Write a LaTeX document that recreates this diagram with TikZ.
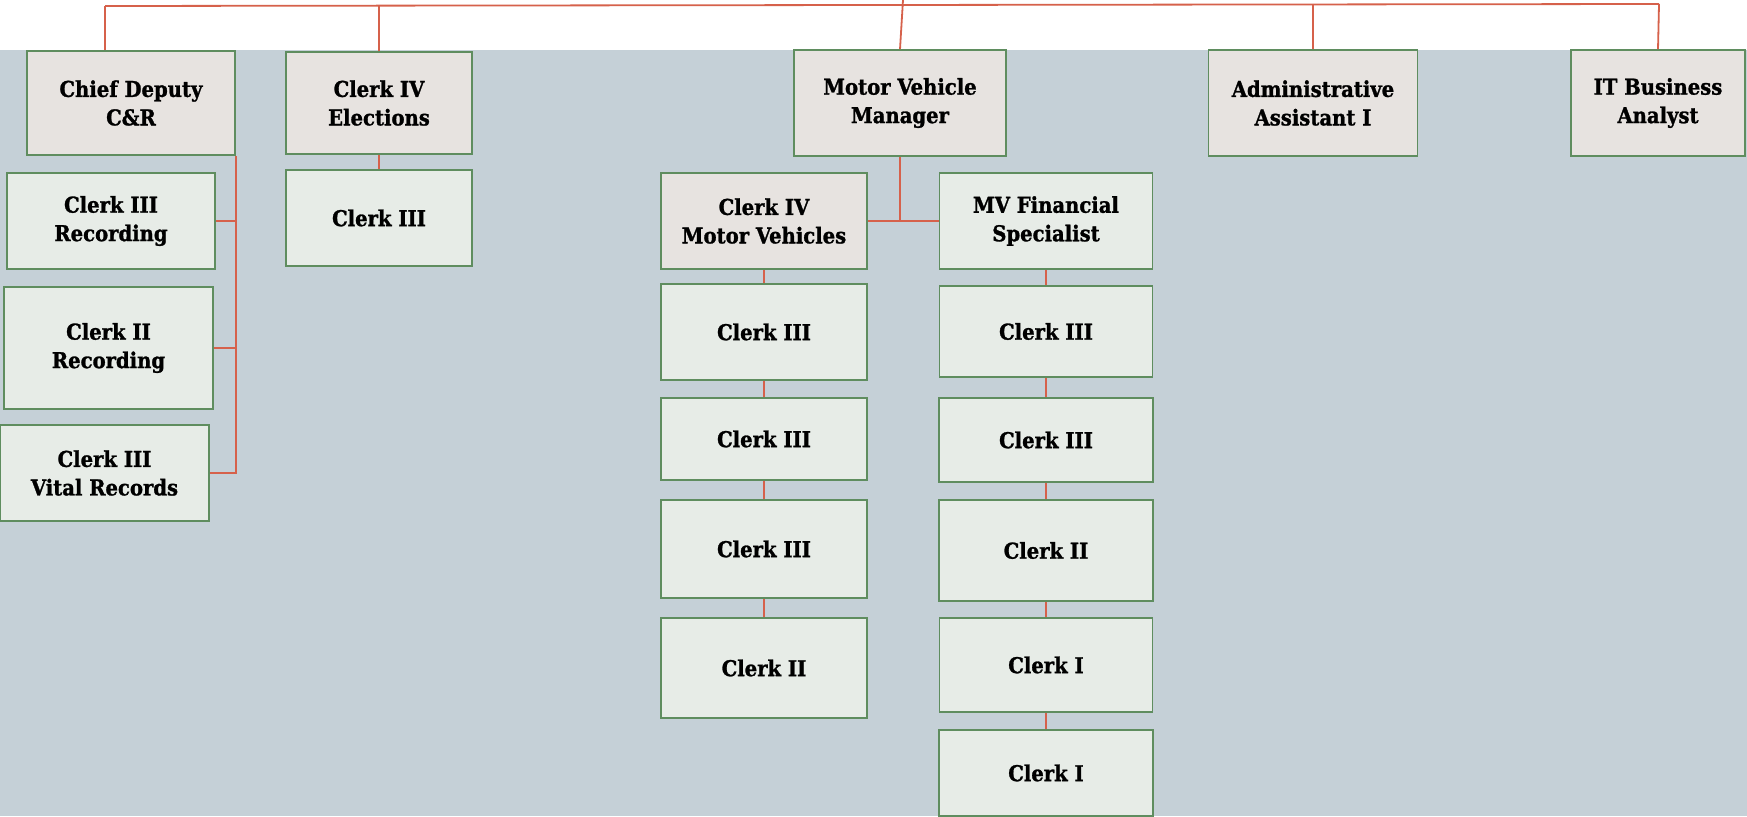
\documentclass[tikz,border=0pt]{standalone}
\usepackage{fontspec}
\newfontfamily\chartfont{DejaVu Serif Condensed}[BoldFeatures={FakeBold=1.2}]
\definecolor{bgblue}{HTML}{C5D0D7}
\definecolor{headfill}{HTML}{E7E3E0}
\definecolor{stafffill}{HTML}{E7ECE7}
\definecolor{boxgreen}{HTML}{5F8D5F}
\definecolor{linkred}{HTML}{D6614B}

\begin{document}
\begin{tikzpicture}[x=1pt,y=-1pt,
    head/.style={draw=boxgreen,line width=1.7pt,fill=headfill,inner sep=0pt,align=center,
      font=\chartfont\bfseries\fontsize{21.8}{28.5}\selectfont},
    staff/.style={head,fill=stafffill},
    link/.style={draw=linkred,line width=1.8pt}]
  \useasboundingbox (0,0) rectangle (1747,816);
  \clip (0,0) rectangle (1747,816);
  \fill[white] (0,0) rectangle (1747,50);
  \fill[bgblue] (0,50) rectangle (1747,816);
  % top row
  \node[head,minimum width=208,minimum height=104] (cd) at (131,103) {Chief Deputy\\C\&R};
  \node[head,minimum width=186,minimum height=102] (el) at (379,103) {Clerk IV\\Elections};
  \node[head,minimum width=212,minimum height=106] (mvm) at (900,103) {Motor Vehicle\\Manager};
  \node[head,minimum width=209,minimum height=106] (adm) at (1313,103) {Administrative\\Assistant I};
  \node[head,minimum width=174,minimum height=106] (it) at (1658,103) {IT Business\\Analyst};
  % recording
  \node[staff,minimum width=208,minimum height=96] (rec3) at (111,221) {Clerk III\\Recording};
  \node[staff,minimum width=209,minimum height=122] (rec2) at (108.5,348) {Clerk II\\Recording};
  \node[staff,minimum width=209,minimum height=96] (vr) at (104.5,473) {Clerk III\\Vital Records};
  % elections
  \node[staff,minimum width=186,minimum height=96] (el3) at (379,218) {Clerk III};
  % motor vehicles
  \node[head,minimum width=206,minimum height=96] (mv4) at (764,221) {Clerk IV\\Motor Vehicles};
  \node[staff,minimum width=206,minimum height=96] (a1) at (764,332) {Clerk III};
  \node[staff,minimum width=206,minimum height=82] (a2) at (764,439) {Clerk III};
  \node[staff,minimum width=206,minimum height=98] (a3) at (764,549) {Clerk III};
  \node[staff,minimum width=206,minimum height=100] (a4) at (764,668) {Clerk II};
  \node[staff,minimum width=213,minimum height=96] (mvf) at (1046,221) {MV Financial\\Specialist};
  \node[staff,minimum width=213,minimum height=91] (b1) at (1046,331.5) {Clerk III};
  \node[staff,minimum width=214,minimum height=84] (b2) at (1046,440) {Clerk III};
  \node[staff,minimum width=214,minimum height=101] (b3) at (1046,550.5) {Clerk II};
  \node[staff,minimum width=213,minimum height=94] (b4) at (1046,665) {Clerk I};
  \node[staff,minimum width=214,minimum height=86] (b5) at (1046,773) {Clerk I};
  % links
  \coordinate (busL) at (105,6);
  \coordinate (busR) at (1659,4);
  \coordinate (up) at (903,0);
  \draw[link] (busL) -- (busR);
  \draw[link] (busL) -- (busL |- cd.north);
  \draw[link] (el.north |- busL) -- (el.north);
  \draw[link] (up) -- (mvm.north);
  \draw[link] (adm.north |- busR) -- (adm.north);
  \draw[link] (busR) -- (it.north);
  \draw[link] (cd.south east) |- (vr.east);
  \draw[link] (rec3.east) -- (rec3.east -| cd.east);
  \draw[link] (rec2.east) -- (rec2.east -| cd.east);
  \draw[link] (el) -- (el3);
  \draw[link] (mvm.south) -- (mvm.south |- mv4.east);
  \draw[link] (mv4.east) -- (mvf.west);
  \foreach \a/\b in {mv4/a1,a1/a2,a2/a3,a3/a4,mvf/b1,b1/b2,b2/b3,b3/b4,b4/b5}
    \draw[link] (\a) -- (\b);
\end{tikzpicture}
\end{document}
